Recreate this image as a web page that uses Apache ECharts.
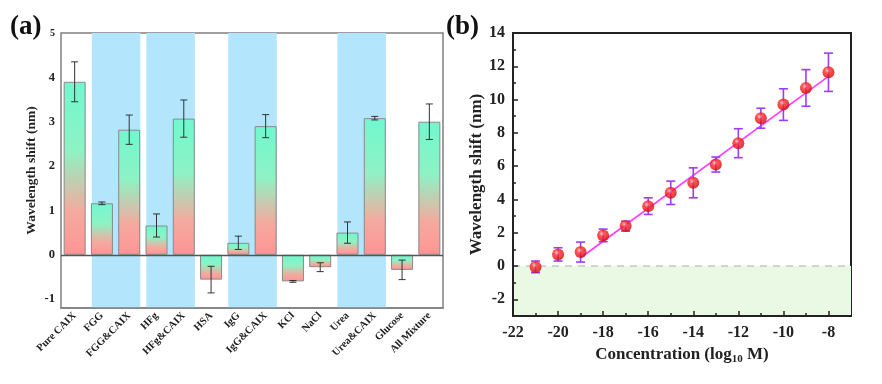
<!DOCTYPE html>
<html>
<head>
<meta charset="utf-8">
<script src="https://cdn.jsdelivr.net/npm/echarts@6/dist/echarts.min.js"></script>
<style>html,body{margin:0;padding:0;background:#fff}#c{width:882px;height:384px}</style>
</head>
<body>
<div id="c"></div>
<script>
// ---- Panel (a) data ----
const categories = ['Pure CAIX','FGG','FGG&CAIX','HFg','HFg&CAIX','HSA','IgG','IgG&CAIX','KCl','NaCl','Urea','Urea&CAIX','Glucose','All Mixture'];
const barValues = [3.9, 1.16, 2.82, 0.66, 3.07, -0.56, 0.27, 2.9, -0.6, -0.28, 0.5, 3.08, -0.34, 3.0];
const barErrors = [0.45, 0.03, 0.33, 0.26, 0.42, 0.3, 0.15, 0.26, 0.02, 0.1, 0.24, 0.04, 0.22, 0.4];
const bandPairs = [[1, 2], [3, 4], [6, 7], [10, 11]];
const aTickLabels = [-1, 0, 1, 2, 3, 4, 5];
const aMinorTicks = [-0.5, 0.5, 1.5, 2.5, 3.5, 4.5];

// ---- Panel (b) data ----
const concentration = [-21, -20, -19, -18, -17, -16, -15, -14, -13, -12, -11, -10, -9, -8];
const shift = [-0.05, 0.7, 0.84, 1.84, 2.4, 3.6, 4.4, 5.0, 6.1, 7.38, 8.88, 9.7, 10.7, 11.64];
const shiftErr = [0.35, 0.4, 0.6, 0.38, 0.3, 0.5, 0.7, 0.9, 0.45, 0.87, 0.6, 0.95, 1.1, 1.15];
const fitX = [-19, -8];
const fitY = [0.5, 11.4];
const bXTicks = [-22, -20, -18, -16, -14, -12, -10, -8];
const bXMinor = [-21, -19, -17, -15, -13, -11, -9];
const bYTicks = [-2, 0, 2, 4, 6, 8, 10, 12, 14];
const bYMinor = [-1, 1, 3, 5, 7, 9, 11, 13];

const FONT = 'Liberation Serif';
const chart = echarts.init(document.getElementById('c'));

const barGradient = {
  type: 'linear', x: 0, y: 0, x2: 0, y2: 1,
  colorStops: [
    {offset: 0, color: '#70f8cf'},
    {offset: 0.4, color: '#8ef2c4'},
    {offset: 0.75, color: '#f4aa9e'},
    {offset: 1, color: '#ff9494'}
  ]
};
const sphere = {
  type: 'radial', x: 0.4, y: 0.35, r: 0.75,
  colorStops: [
    {offset: 0, color: '#ffc0c0'},
    {offset: 0.3, color: '#ff2a2a'},
    {offset: 1, color: '#c40000'}
  ]
};

const option = {
  animation: false,
  graphic: [
    {type: 'text', left: 10, top: 14, style: {text: '(a)', font: 'bold 27px ' + FONT, fill: '#111'}},
    {type: 'text', left: 446, top: 14, style: {text: '(b)', font: 'bold 27px ' + FONT, fill: '#111'}}
  ],
  grid: [
    {left: 61, top: 33, width: 382, height: 275, show: true, borderColor: '#808080', borderWidth: 1.5, backgroundColor: 'transparent'},
    {left: 513, top: 33, width: 338, height: 283, show: true, borderColor: '#222', borderWidth: 2, backgroundColor: 'transparent'}
  ],
  xAxis: [
    {
      type: 'category', gridIndex: 0, data: categories, position: 'bottom', z: 10,
      axisLine: {onZero: false, lineStyle: {color: '#808080', width: 1.5}},
      axisTick: {inside: true, alignWithLabel: true, length: 4, lineStyle: {color: '#444'}},
      axisLabel: {interval: 0, rotate: 45, margin: 6, fontFamily: FONT, fontWeight: 'bold', fontSize: 10.5, color: '#222'},
      splitLine: {show: false}
    },
    {
      type: 'category', gridIndex: 0, data: categories, position: 'bottom', z: 10,
      axisLine: {show: false, onZero: false},
      axisTick: {inside: true, length: 3.5, lineStyle: {color: '#444'}},
      axisLabel: {show: false}, splitLine: {show: false}
    },
    {
      type: 'value', gridIndex: 1, min: -22, max: -7, position: 'bottom', z: 10,
      name: 'Concentration (log{sub|10} M)', nameLocation: 'middle', nameGap: 27,
      nameTextStyle: {fontFamily: FONT, fontWeight: 'bold', fontSize: 17, color: '#222',
        rich: {sub: {fontFamily: FONT, fontWeight: 'bold', fontSize: 11, color: '#222', padding: [9, 0, 0, 0]}}},
      axisLine: {onZero: false, lineStyle: {color: '#222', width: 2}},
      axisTick: {inside: true, length: 5, customValues: bXTicks, lineStyle: {color: '#222', width: 1.5}},
      axisLabel: {customValues: bXTicks, margin: 9, fontFamily: FONT, fontWeight: 'bold', fontSize: 16, color: '#222'},
      splitLine: {show: false}
    },
    {
      type: 'value', gridIndex: 1, min: -22, max: -7, position: 'bottom', z: 10,
      axisLine: {show: false, onZero: false},
      axisTick: {inside: true, length: 3, customValues: bXMinor, lineStyle: {color: '#222', width: 1.5}},
      axisLabel: {show: false}, splitLine: {show: false}
    }
  ],
  yAxis: [
    {
      type: 'value', gridIndex: 0, min: -1.2, max: 5, position: 'left', z: 10,
      name: 'Wavelength shift (nm)', nameLocation: 'middle', nameGap: 22,
      nameTextStyle: {fontFamily: FONT, fontWeight: 'bold', fontSize: 13.5, color: '#222'},
      axisLine: {onZero: false, lineStyle: {color: '#808080', width: 1.5}},
      axisTick: {inside: true, length: 4, customValues: aTickLabels, lineStyle: {color: '#444'}},
      axisLabel: {customValues: aTickLabels, margin: 6, fontFamily: FONT, fontWeight: 'bold', fontSize: 12.5, color: '#222',
        formatter: function (v) { return v === 5 ? '{s|5}' : String(v); },
        rich: {s: {fontFamily: FONT, fontWeight: 'bold', fontSize: 10, color: '#222'}}},
      splitLine: {show: false}
    },
    {
      type: 'value', gridIndex: 0, min: -1.2, max: 5, position: 'left', z: 10,
      axisLine: {show: false, onZero: false},
      axisTick: {inside: true, length: 2.5, customValues: aMinorTicks, lineStyle: {color: '#444'}},
      axisLabel: {show: false}, splitLine: {show: false}
    },
    {
      type: 'value', gridIndex: 1, min: -3, max: 14, position: 'left', z: 10,
      name: 'Wavelength shift (nm)', nameLocation: 'middle', nameGap: 28,
      nameTextStyle: {fontFamily: FONT, fontWeight: 'bold', fontSize: 17, color: '#222'},
      axisLine: {onZero: false, lineStyle: {color: '#222', width: 2}},
      axisTick: {inside: true, length: 5, customValues: bYTicks, lineStyle: {color: '#222', width: 1.5}},
      axisLabel: {customValues: bYTicks, margin: 8, fontFamily: FONT, fontWeight: 'bold', fontSize: 16, color: '#222'},
      splitLine: {show: false}
    },
    {
      type: 'value', gridIndex: 1, min: -3, max: 14, position: 'left', z: 10,
      axisLine: {show: false, onZero: false},
      axisTick: {inside: true, length: 3, customValues: bYMinor, lineStyle: {color: '#222', width: 1.5}},
      axisLabel: {show: false}, splitLine: {show: false}
    }
  ],
  series: [
    // blue background bands
    {
      type: 'custom', xAxisIndex: 0, yAxisIndex: 0, z: 1, silent: true,
      data: bandPairs,
      renderItem: function (params, api) {
        const bw = api.size([1, 0])[0];
        const x0 = api.coord([api.value(0), 0])[0] - bw / 2 + 3.5;
        const x1 = api.coord([api.value(1), 0])[0] + bw / 2 - 2.5;
        const cs = params.coordSys;
        return {type: 'rect', shape: {x: x0, y: cs.y, width: x1 - x0, height: cs.height},
          style: {fill: '#b3e5fc'}};
      }
    },
    // bars
    {
      type: 'bar', xAxisIndex: 0, yAxisIndex: 0, z: 3, barWidth: 22,
      data: barValues,
      itemStyle: {color: barGradient, borderColor: '#8a8a8a', borderWidth: 1},
      markLine: {silent: true, symbol: 'none', label: {show: false},
        lineStyle: {color: '#555', width: 1.3, type: 'solid'}, data: [{yAxis: 0}]}
    },
    // error bars (a)
    {
      type: 'custom', xAxisIndex: 0, yAxisIndex: 0, z: 5, silent: true,
      data: barValues.map((v, i) => [i, v, barErrors[i]]),
      renderItem: function (params, api) {
        const i = api.value(0), v = api.value(1), e = api.value(2);
        const hi = api.coord([i, v + e]), lo = api.coord([i, v - e]);
        const c = 3.5, st = {stroke: '#333', lineWidth: 1};
        return {type: 'group', children: [
          {type: 'line', shape: {x1: hi[0], y1: hi[1], x2: lo[0], y2: lo[1]}, style: st},
          {type: 'line', shape: {x1: hi[0] - c, y1: hi[1], x2: hi[0] + c, y2: hi[1]}, style: st},
          {type: 'line', shape: {x1: lo[0] - c, y1: lo[1], x2: lo[0] + c, y2: lo[1]}, style: st}
        ]};
      }
    },
    // fit line (b) with shaded area + dashed zero line
    {
      type: 'line', xAxisIndex: 2, yAxisIndex: 2, z: 3, symbol: 'none',
      data: fitX.map((x, i) => [x, fitY[i]]),
      lineStyle: {color: '#ff3cff', width: 1.6},
      markArea: {silent: true, itemStyle: {color: '#e9f9e4'}, data: [[{yAxis: -3}, {yAxis: 0}]]},
      markLine: {silent: true, symbol: 'none', label: {show: false},
        lineStyle: {color: '#c6c6c6', width: 1.5, type: [7, 6]}, data: [{yAxis: 0}]}
    },
    // error bars (b)
    {
      type: 'custom', xAxisIndex: 2, yAxisIndex: 2, z: 4, silent: true,
      data: concentration.map((x, i) => [x, shift[i], shiftErr[i]]),
      renderItem: function (params, api) {
        const x = api.value(0), v = api.value(1), e = api.value(2);
        const hi = api.coord([x, v + e]), lo = api.coord([x, v - e]);
        const c = 4.5, st = {stroke: '#9b3cff', lineWidth: 1.6};
        return {type: 'group', children: [
          {type: 'line', shape: {x1: hi[0], y1: hi[1], x2: lo[0], y2: lo[1]}, style: st},
          {type: 'line', shape: {x1: hi[0] - c, y1: hi[1], x2: hi[0] + c, y2: hi[1]}, style: st},
          {type: 'line', shape: {x1: lo[0] - c, y1: lo[1], x2: lo[0] + c, y2: lo[1]}, style: st}
        ]};
      }
    },
    // points (b)
    {
      type: 'scatter', xAxisIndex: 2, yAxisIndex: 2, z: 6, symbol: 'circle', symbolSize: 12,
      data: concentration.map((x, i) => [x, shift[i]]),
      itemStyle: {color: sphere}
    }
  ]
};
chart.setOption(option);
</script>
</body>
</html>
